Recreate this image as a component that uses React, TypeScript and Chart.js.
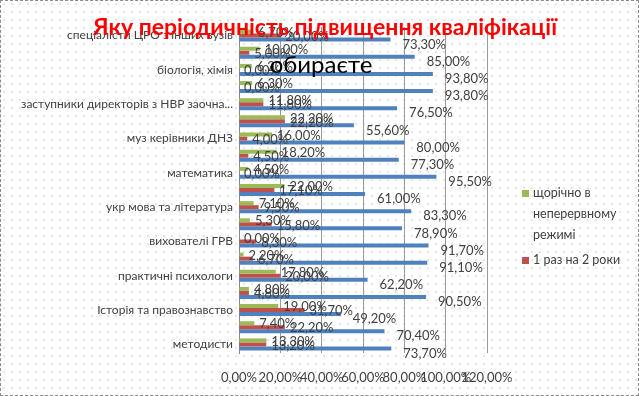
import React, { useEffect, useRef } from "react";
import { Chart, registerables } from "chart.js";

Chart.register(...registerables);

const categories = [
  "спеціалісти ЦРО з інших вузів",
  "",
  "біологія, хімія",
  "",
  "заступники директорів з НВР заочна...",
  "",
  "муз керівники ДНЗ",
  "",
  "математика",
  "",
  "укр мова та література",
  "",
  "вихователі ГРВ",
  "",
  "практичні психологи",
  "",
  "Історія та правознавство",
  "",
  "методисти",
];

const yearly = [6.7, 10.0, 6.2, 6.3, 11.8, 22.2, 16.0, 18.2, 4.5, 22.0, 7.1, 5.3, 0.0, 2.2, 17.8, 4.8, 19.0, 7.4, 13.3];
const everyTwoYears = [20.0, 5.0, 0.0, 0.0, 11.8, 22.2, 4.0, 4.5, 0.0, 17.1, 9.5, 15.8, 8.3, 6.7, 20.0, 4.8, 31.7, 22.2, 13.2];
const everyFiveYears = [73.3, 85.0, 93.8, 93.8, 76.5, 55.6, 80.0, 77.3, 95.5, 61.0, 83.3, 78.9, 91.7, 91.1, 62.2, 90.5, 49.2, 70.4, 73.7];

const seriesNames = ["щорічно в неперервному режимі", "1 раз на 2 роки", "1 раз на 5 років"];
const legendLines = [["щорічно в", "неперервному", "режимі"], ["1 раз на 2 роки"]];
const titleLine1 = "Яку періодичність підвищення кваліфікації";
const titleLine2 = "обираєте";

const xMax = 120;
const xStep = 20;

const FONT = "Lato, 'Liberation Sans', sans-serif";
const colors = ["#9BBB59", "#C0504D", "#4F81BD"];

const fmt = (v: number) => v.toFixed(2).replace(".", ",") + "%";

const overlayPlugin = {
  id: "overlay",
  afterDatasetsDraw(chart: any) {
    const ctx = chart.ctx;
    ctx.save();
    // data labels
    ctx.font = `13px ${FONT}`;
    ctx.fillStyle = "#404040";
    ctx.textAlign = "left";
    ctx.textBaseline = "middle";
    chart.data.datasets.forEach((ds: any, di: number) => {
      const meta = chart.getDatasetMeta(di);
      meta.data.forEach((el: any, i: number) => {
        const dx = di === 2 ? 12 : 5;
        const dy = di === 2 ? 5 : 1;
        ctx.fillText(fmt(ds.data[i]), el.x + dx, el.y + dy);
      });
    });
    // legend
    ctx.font = `12.5px ${FONT}`;
    const legendX = 522;
    const legendYs = [193, 260];
    legendLines.forEach((lines, li) => {
      const y0 = legendYs[li];
      ctx.fillStyle = colors[li];
      ctx.fillRect(legendX, y0 - 3, 7, 7);
      ctx.fillStyle = "#404040";
      lines.forEach((t, k) => {
        ctx.fillText(t, legendX + 11, y0 + k * 21);
      });
    });
    // title
    ctx.textAlign = "center";
    ctx.textBaseline = "alphabetic";
    ctx.font = `bold 23px ${FONT}`;
    ctx.fillStyle = "#FF0000";
    ctx.fillText(titleLine1, 325, 35);
    ctx.font = `24px ${FONT}`;
    ctx.fillStyle = "#000000";
    ctx.fillText(titleLine2, 321, 73);
    ctx.restore();
  },
};

export default function App() {
  const ref = useRef<HTMLCanvasElement | null>(null);

  useEffect(() => {
    document.body.style.margin = "0";
    if (!ref.current) return;
    const chart = new Chart(ref.current, {
      type: "bar",
      data: {
        labels: categories,
        datasets: [yearly, everyTwoYears, everyFiveYears].map((d, i) => ({
          label: seriesNames[i],
          data: d,
          backgroundColor: colors[i],
          borderWidth: 0,
          categoryPercentage: 0.7,
          barPercentage: 1,
        })),
      },
      options: {
        indexAxis: "y",
        animation: false,
        responsive: false,
        maintainAspectRatio: false,
        layout: { padding: { left: 0, right: 152, top: 27, bottom: 0 } },
        plugins: {
          legend: { display: false },
          title: { display: false },
          tooltip: { enabled: false },
        },
        scales: {
          x: {
            min: 0,
            max: xMax,
            ticks: {
              stepSize: xStep,
              callback: (v: any) => fmt(Number(v)),
              font: { family: FONT, size: 13 },
              color: "#404040",
              padding: 17,
              maxRotation: 0,
              autoSkip: false,
            },
            grid: { color: "#9a9a9a", drawTicks: false },
            border: { display: false },
            afterFit: (s: any) => {
              s.height = 43;
            },
          },
          y: {
            ticks: {
              autoSkip: false,
              font: { family: FONT, size: 12 },
              color: "#404040",
              padding: 6,
            },
            grid: { display: false, drawTicks: false },
            border: { display: true, color: "#888888" },
            afterFit: (s: any) => {
              s.width = 239;
            },
          },
        },
      },
      plugins: [overlayPlugin],
    } as any);
    return () => chart.destroy();
  }, []);

  return (
    <div
      style={{
        position: "relative",
        width: 639,
        height: 396,
        backgroundColor: "#ffffff",
        backgroundImage: "radial-gradient(circle, #c8c8c8 0.6px, transparent 0.8px)",
        backgroundSize: "8px 8px",
      }}
    >
      <canvas ref={ref} width={639} height={396} style={{ position: "absolute", left: 0, top: 0 }} />
      <div
        style={{
          position: "absolute",
          left: 0,
          top: 0,
          width: 639,
          height: 396,
          boxSizing: "border-box",
          border: "1px dashed #8a8a8a",
          pointerEvents: "none",
        }}
      />
    </div>
  );
}
